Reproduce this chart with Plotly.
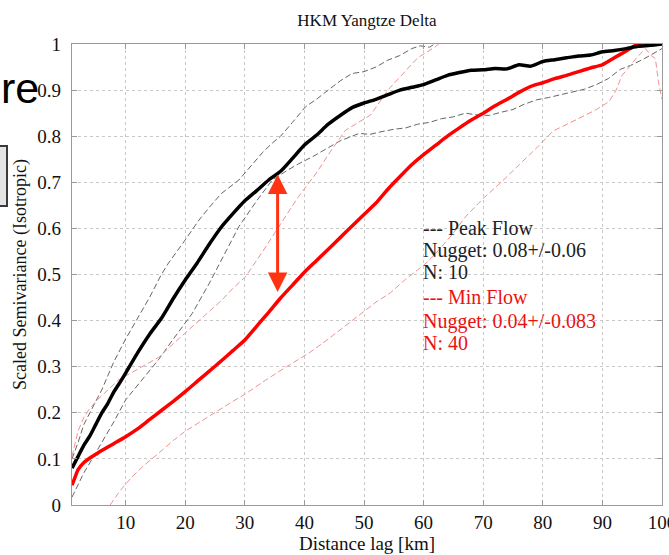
import plotly.graph_objects as go

# ---------------- data ----------------
peak_x = [1, 2, 3, 4, 5, 6, 7, 8, 9, 10, 12, 14, 16, 18, 20, 22, 24, 26, 28, 30,
          32, 34, 36, 38, 40, 42, 44, 46, 48, 50, 52, 54, 56, 58, 60, 62, 64, 66,
          68, 70, 72, 74, 76, 78, 80, 82, 84, 86, 88, 90, 92, 94, 96, 98, 100]
peak_mean = [0.080, 0.105, 0.130, 0.150, 0.175, 0.200, 0.220, 0.245, 0.265, 0.286,
             0.330, 0.370, 0.405, 0.448, 0.488, 0.525, 0.565, 0.602, 0.632, 0.660,
             0.682, 0.705, 0.724, 0.752, 0.781, 0.802, 0.826, 0.845, 0.862, 0.872,
             0.880, 0.890, 0.900, 0.906, 0.912, 0.922, 0.932, 0.938, 0.943, 0.944,
             0.947, 0.946, 0.955, 0.952, 0.962, 0.966, 0.970, 0.974, 0.976, 0.983,
             0.986, 0.990, 0.995, 0.997, 1.000]

min_x = [1, 1.5, 2, 3, 4, 5, 6, 8, 10, 12, 14, 16, 18, 20, 22, 24, 26, 28, 30, 32,
         34, 36, 38, 40, 42, 44, 46, 48, 50, 52, 54, 56, 58, 60, 62, 64, 66, 68, 70,
         72, 74, 76, 78, 80, 82, 84, 86, 88, 90, 92, 94, 96, 98, 100]
min_mean = [0.043, 0.060, 0.076, 0.092, 0.102, 0.110, 0.118, 0.133, 0.148, 0.165,
            0.185, 0.205, 0.225, 0.246, 0.268, 0.290, 0.312, 0.335, 0.358, 0.388,
            0.418, 0.449, 0.477, 0.505, 0.530, 0.555, 0.580, 0.605, 0.630, 0.655,
            0.685, 0.712, 0.738, 0.760, 0.780, 0.800, 0.818, 0.835, 0.850, 0.866,
            0.880, 0.895, 0.908, 0.916, 0.925, 0.932, 0.940, 0.948, 0.955, 0.970,
            0.985, 1.000, 1.005, 1.005]

peak_up_x = [1, 2, 3, 4, 5, 6, 7, 8, 10, 12, 14, 16, 17.2, 20, 22.3, 24, 26, 29, 31,
             33, 34.6, 36, 38, 40.2, 42, 44, 46, 48, 50, 52, 54, 56, 58, 59.4, 61, 63]
peak_up = [0.100, 0.135, 0.175, 0.200, 0.225, 0.250, 0.280, 0.310, 0.360, 0.405,
           0.450, 0.500, 0.525, 0.575, 0.618, 0.645, 0.675, 0.705, 0.735, 0.765,
           0.785, 0.800, 0.830, 0.864, 0.880, 0.900, 0.920, 0.936, 0.940, 0.950,
           0.965, 0.975, 0.990, 0.996, 0.993, 1.010]

peak_lo_x = [1, 2, 3, 4.3, 6, 8, 10, 12, 14, 15.5, 18, 21.2, 24, 26, 29, 32, 34.6,
             37, 39, 41.3, 44, 46, 49.2, 51, 53, 55, 57, 59, 61, 63, 65, 67, 69, 71,
             73, 75, 77, 79, 81, 83, 85, 87, 89, 91, 93, 95, 97, 99, 100]
peak_lo = [0.017, 0.045, 0.070, 0.098, 0.135, 0.180, 0.228, 0.260, 0.290, 0.315,
           0.360, 0.416, 0.480, 0.530, 0.604, 0.660, 0.705, 0.725, 0.740, 0.755,
           0.775, 0.790, 0.806, 0.804, 0.810, 0.815, 0.818, 0.826, 0.830, 0.838,
           0.842, 0.850, 0.846, 0.845, 0.852, 0.858, 0.870, 0.879, 0.884, 0.890,
           0.895, 0.902, 0.912, 0.925, 0.945, 0.955, 0.968, 0.982, 0.990]

min_up_x = [1, 2, 3, 3.8, 5, 7, 8.8, 10, 12, 15.5, 18, 21.2, 24, 26.2, 28, 30.1, 33,
            36, 39, 42, 44, 46.9, 49, 51.1, 54, 56.7, 59, 62.2, 64]
min_up = [0.105, 0.160, 0.190, 0.206, 0.225, 0.250, 0.271, 0.280, 0.295, 0.320,
          0.350, 0.387, 0.420, 0.445, 0.470, 0.495, 0.550, 0.610, 0.669, 0.720,
          0.760, 0.813, 0.830, 0.846, 0.900, 0.939, 0.970, 0.996, 1.020]

min_lo_x = [7.4, 9, 11, 13, 15.5, 18, 20, 23, 25.6, 28, 30, 33.5, 37, 40.8, 44, 47,
            50, 52, 54.4, 57, 60, 62, 65, 67, 70, 73, 76.1, 79, 81.7, 84, 87.2, 89,
            91.1, 92.3, 93.3, 94.5, 95.6, 97.2, 98.2, 98.9, 99.4, 100]
min_lo = [0.000, 0.030, 0.060, 0.085, 0.112, 0.140, 0.160, 0.185, 0.206, 0.225,
          0.240, 0.271, 0.300, 0.330, 0.360, 0.390, 0.420, 0.440, 0.460, 0.490,
          0.520, 0.545, 0.590, 0.625, 0.665, 0.700, 0.739, 0.775, 0.811, 0.825,
          0.846, 0.858, 0.875, 0.900, 0.932, 0.950, 0.968, 0.990, 0.975, 0.968,
          0.918, 0.880]

x_ticks = [10, 20, 30, 40, 50, 60, 70, 80, 90, 100]
y_ticks = [0, 0.1, 0.2, 0.3, 0.4, 0.5, 0.6, 0.7, 0.8, 0.9, 1]
y_tick_text = ["0", "0.1", "0.2", "0.3", "0.4", "0.5", "0.6", "0.7", "0.8", "0.9", "1"]

legend_lines = [
    ("--- Peak Flow", "#222222"),
    ("Nugget: 0.08+/-0.06", "#222222"),
    ("N: 10", "#222222"),
    ("--- Min Flow", "#ee1111"),
    ("Nugget: 0.04+/-0.083", "#ee1111"),
    ("N: 40", "#ee1111"),
]
legend_y = [0.600, 0.553, 0.505, 0.451, 0.399, 0.351]
arrow_x = 35.5
arrow_top = 0.72
arrow_bottom = 0.462

# ---------------- figure ----------------
SERIF = "Liberation Serif"
fig = go.Figure()

dash = "6px,3px"
fig.add_trace(go.Scatter(x=peak_up_x, y=peak_up, mode="lines",
                         line=dict(color="#666666", width=1, dash=dash)))
fig.add_trace(go.Scatter(x=peak_lo_x, y=peak_lo, mode="lines",
                         line=dict(color="#666666", width=1, dash=dash)))
fig.add_trace(go.Scatter(x=min_up_x, y=min_up, mode="lines",
                         line=dict(color="#f29090", width=1, dash=dash)))
fig.add_trace(go.Scatter(x=min_lo_x, y=min_lo, mode="lines",
                         line=dict(color="#f29090", width=1, dash=dash)))
fig.add_trace(go.Scatter(x=min_x, y=min_mean, mode="lines",
                         line=dict(color="#ff0000", width=3.5, shape="spline", smoothing=0.6)))
fig.add_trace(go.Scatter(x=peak_x, y=peak_mean, mode="lines",
                         line=dict(color="#000000", width=3.5, shape="spline", smoothing=0.6)))

# double headed arrow
fig.add_annotation(x=arrow_x, y=arrow_bottom, ax=arrow_x, ay=arrow_top,
                   xref="x", yref="y", axref="x", ayref="y", text="",
                   showarrow=True, arrowhead=2, startarrowhead=2,
                   arrowside="end+start", arrowsize=1.3, startarrowsize=1.3,
                   arrowwidth=3, arrowcolor="#ff3311", standoff=0, startstandoff=0)

for (txt, col), yy in zip(legend_lines, legend_y):
    fig.add_annotation(x=59.6, y=yy, xref="x", yref="y", text=txt,
                       showarrow=False, xanchor="left", yanchor="middle",
                       font=dict(family=SERIF, size=20, color=col))

# slide remnants on the left edge
fig.add_annotation(x=(41 - 72) / 590, y=(505 - 88) / 461, xref="paper", yref="paper",
                   text="re", showarrow=False, xanchor="right", yanchor="middle",
                   font=dict(family="Liberation Sans", size=43, color="#000000"))
fig.add_shape(type="rect", xref="paper", yref="paper",
              x0=(-20 - 72) / 590, x1=(7 - 72) / 590,
              y0=(505 - 206) / 461, y1=(505 - 146) / 461,
              line=dict(color="#3a3a3a", width=2), fillcolor="#e4e4e4")

axis_common = dict(showline=True, linecolor="#9a9a9a", linewidth=1.2, mirror="ticks",
                   ticks="inside", ticklen=5, tickcolor="#9a9a9a",
                   showgrid=True, gridcolor="#c8c8c8", griddash="dot", gridwidth=1,
                   zeroline=False, ticklabeloverflow="allow",
                   tickfont=dict(family=SERIF, size=19, color="#111111"))

fig.update_xaxes(range=[1, 100], tickvals=x_ticks,
                 title=dict(text="Distance lag [km]", standoff=4,
                            font=dict(family=SERIF, size=19, color="#111111")),
                 **axis_common)
fig.update_yaxes(range=[0, 1], tickvals=y_ticks, ticktext=y_tick_text,
                 ticklabelstandoff=6,
                 title=dict(text="Scaled Semivariance (Isotropic)", standoff=6,
                            font=dict(family=SERIF, size=18, color="#111111")),
                 **axis_common)

fig.update_layout(
    width=669, height=555,
    margin=dict(l=72, r=7, t=44, b=50, autoexpand=False),
    paper_bgcolor="white", plot_bgcolor="white",
    showlegend=False,
    title=dict(text="HKM Yangtze Delta", x=0.5, xref="paper", xanchor="center",
               y=(555 - 20) / 555, yanchor="middle",
               font=dict(family=SERIF, size=17, color="#111111")),
)

fig.write_html("out.html")
